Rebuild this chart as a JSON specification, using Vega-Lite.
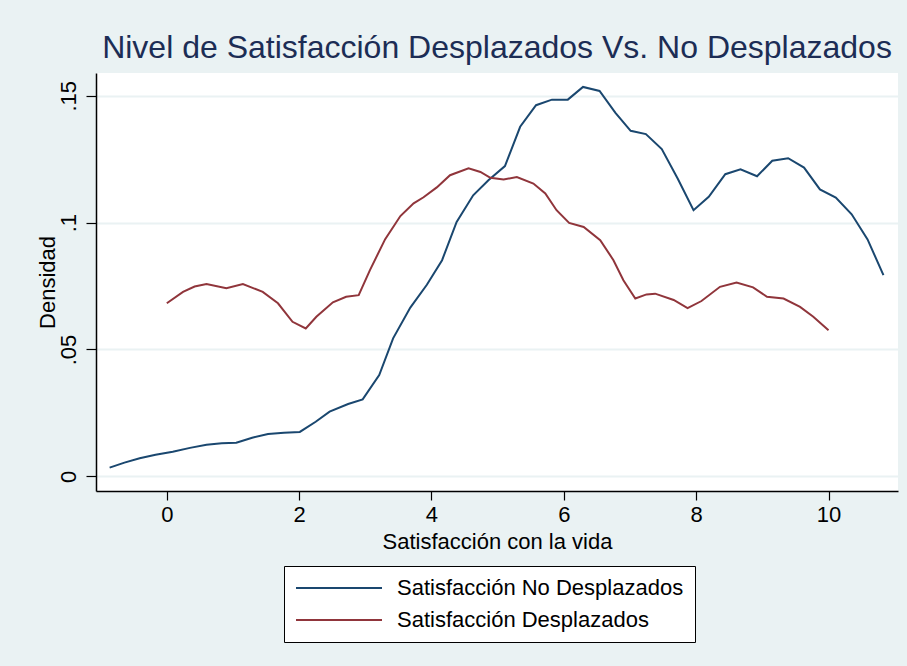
{
  "$schema": "https://vega.github.io/schema/vega-lite/v6.json",
  "width": 802,
  "height": 418,
  "autosize": {"type": "none"},
  "padding": {"left": 96, "top": 73, "right": 9, "bottom": 175},
  "background": "#EAF2F3",
  "title": {
    "text": "Nivel de Satisfacción Desplazados Vs. No Desplazados",
    "fontSize": 32,
    "fontWeight": "normal",
    "font": "Liberation Sans",
    "color": "#1C2D55",
    "anchor": "middle",
    "offset": 8
  },
  "config": {
    "font": "Liberation Sans",
    "view": {"stroke": null, "fill": "white"}
  },
  "data": {
    "values": [
      {"x": -0.864, "y": 0.0034, "s": "Satisfacción No Desplazados"},
      {"x": -0.64, "y": 0.0054, "s": "Satisfacción No Desplazados"},
      {"x": -0.41, "y": 0.0071, "s": "Satisfacción No Desplazados"},
      {"x": -0.17, "y": 0.0085, "s": "Satisfacción No Desplazados"},
      {"x": 0.09, "y": 0.0097, "s": "Satisfacción No Desplazados"},
      {"x": 0.35, "y": 0.0112, "s": "Satisfacción No Desplazados"},
      {"x": 0.6, "y": 0.0124, "s": "Satisfacción No Desplazados"},
      {"x": 0.83, "y": 0.0130, "s": "Satisfacción No Desplazados"},
      {"x": 1.05, "y": 0.0132, "s": "Satisfacción No Desplazados"},
      {"x": 1.29, "y": 0.0152, "s": "Satisfacción No Desplazados"},
      {"x": 1.53, "y": 0.0167, "s": "Satisfacción No Desplazados"},
      {"x": 1.77, "y": 0.0172, "s": "Satisfacción No Desplazados"},
      {"x": 2.01, "y": 0.0175, "s": "Satisfacción No Desplazados"},
      {"x": 2.25, "y": 0.0215, "s": "Satisfacción No Desplazados"},
      {"x": 2.46, "y": 0.0255, "s": "Satisfacción No Desplazados"},
      {"x": 2.74, "y": 0.0285, "s": "Satisfacción No Desplazados"},
      {"x": 2.96, "y": 0.0303, "s": "Satisfacción No Desplazados"},
      {"x": 3.21, "y": 0.0399, "s": "Satisfacción No Desplazados"},
      {"x": 3.42, "y": 0.0544, "s": "Satisfacción No Desplazados"},
      {"x": 3.68, "y": 0.0665, "s": "Satisfacción No Desplazados"},
      {"x": 3.93, "y": 0.0755, "s": "Satisfacción No Desplazados"},
      {"x": 4.16, "y": 0.0852, "s": "Satisfacción No Desplazados"},
      {"x": 4.38, "y": 0.1003, "s": "Satisfacción No Desplazados"},
      {"x": 4.63, "y": 0.1108, "s": "Satisfacción No Desplazados"},
      {"x": 4.86, "y": 0.1167, "s": "Satisfacción No Desplazados"},
      {"x": 5.11, "y": 0.1223, "s": "Satisfacción No Desplazados"},
      {"x": 5.34, "y": 0.1378, "s": "Satisfacción No Desplazados"},
      {"x": 5.58, "y": 0.1463, "s": "Satisfacción No Desplazados"},
      {"x": 5.82, "y": 0.1485, "s": "Satisfacción No Desplazados"},
      {"x": 6.06, "y": 0.1485, "s": "Satisfacción No Desplazados"},
      {"x": 6.29, "y": 0.1535, "s": "Satisfacción No Desplazados"},
      {"x": 6.54, "y": 0.1519, "s": "Satisfacción No Desplazados"},
      {"x": 6.78, "y": 0.1433, "s": "Satisfacción No Desplazados"},
      {"x": 7.01, "y": 0.1362, "s": "Satisfacción No Desplazados"},
      {"x": 7.24, "y": 0.1349, "s": "Satisfacción No Desplazados"},
      {"x": 7.48, "y": 0.1290, "s": "Satisfacción No Desplazados"},
      {"x": 7.72, "y": 0.1174, "s": "Satisfacción No Desplazados"},
      {"x": 7.96, "y": 0.1049, "s": "Satisfacción No Desplazados"},
      {"x": 8.19, "y": 0.1102, "s": "Satisfacción No Desplazados"},
      {"x": 8.44, "y": 0.1191, "s": "Satisfacción No Desplazados"},
      {"x": 8.67, "y": 0.1210, "s": "Satisfacción No Desplazados"},
      {"x": 8.92, "y": 0.1183, "s": "Satisfacción No Desplazados"},
      {"x": 9.15, "y": 0.1244, "s": "Satisfacción No Desplazados"},
      {"x": 9.39, "y": 0.1254, "s": "Satisfacción No Desplazados"},
      {"x": 9.63, "y": 0.1217, "s": "Satisfacción No Desplazados"},
      {"x": 9.87, "y": 0.1131, "s": "Satisfacción No Desplazados"},
      {"x": 10.11, "y": 0.1099, "s": "Satisfacción No Desplazados"},
      {"x": 10.35, "y": 0.1033, "s": "Satisfacción No Desplazados"},
      {"x": 10.59, "y": 0.0934, "s": "Satisfacción No Desplazados"},
      {"x": 10.83, "y": 0.0793, "s": "Satisfacción No Desplazados"},
      {"x": 0.0, "y": 0.0682, "s": "Satisfacción Desplazados"},
      {"x": 0.245, "y": 0.0727, "s": "Satisfacción Desplazados"},
      {"x": 0.42, "y": 0.0748, "s": "Satisfacción Desplazados"},
      {"x": 0.6, "y": 0.0758, "s": "Satisfacción Desplazados"},
      {"x": 0.9, "y": 0.0741, "s": "Satisfacción Desplazados"},
      {"x": 1.15, "y": 0.0758, "s": "Satisfacción Desplazados"},
      {"x": 1.45, "y": 0.0727, "s": "Satisfacción Desplazados"},
      {"x": 1.68, "y": 0.0682, "s": "Satisfacción Desplazados"},
      {"x": 1.9, "y": 0.0609, "s": "Satisfacción Desplazados"},
      {"x": 2.1, "y": 0.0583, "s": "Satisfacción Desplazados"},
      {"x": 2.26, "y": 0.0629, "s": "Satisfacción Desplazados"},
      {"x": 2.51, "y": 0.0686, "s": "Satisfacción Desplazados"},
      {"x": 2.71, "y": 0.0708, "s": "Satisfacción Desplazados"},
      {"x": 2.9, "y": 0.0714, "s": "Satisfacción Desplazados"},
      {"x": 3.07, "y": 0.0813, "s": "Satisfacción Desplazados"},
      {"x": 3.3, "y": 0.0935, "s": "Satisfacción Desplazados"},
      {"x": 3.53, "y": 0.1026, "s": "Satisfacción Desplazados"},
      {"x": 3.73, "y": 0.1076, "s": "Satisfacción Desplazados"},
      {"x": 3.88, "y": 0.11, "s": "Satisfacción Desplazados"},
      {"x": 4.08, "y": 0.1139, "s": "Satisfacción Desplazados"},
      {"x": 4.28, "y": 0.1187, "s": "Satisfacción Desplazados"},
      {"x": 4.56, "y": 0.1214, "s": "Satisfacción Desplazados"},
      {"x": 4.74, "y": 0.12, "s": "Satisfacción Desplazados"},
      {"x": 4.89, "y": 0.1177, "s": "Satisfacción Desplazados"},
      {"x": 5.09, "y": 0.117, "s": "Satisfacción Desplazados"},
      {"x": 5.29, "y": 0.118, "s": "Satisfacción Desplazados"},
      {"x": 5.54, "y": 0.1154, "s": "Satisfacción Desplazados"},
      {"x": 5.72, "y": 0.1115, "s": "Satisfacción Desplazados"},
      {"x": 5.89, "y": 0.1049, "s": "Satisfacción Desplazados"},
      {"x": 6.08, "y": 0.0999, "s": "Satisfacción Desplazados"},
      {"x": 6.3, "y": 0.0983, "s": "Satisfacción Desplazados"},
      {"x": 6.55, "y": 0.0931, "s": "Satisfacción Desplazados"},
      {"x": 6.75, "y": 0.0852, "s": "Satisfacción Desplazados"},
      {"x": 6.9, "y": 0.0773, "s": "Satisfacción Desplazados"},
      {"x": 7.08, "y": 0.0701, "s": "Satisfacción Desplazados"},
      {"x": 7.25, "y": 0.0717, "s": "Satisfacción Desplazados"},
      {"x": 7.38, "y": 0.072, "s": "Satisfacción Desplazados"},
      {"x": 7.66, "y": 0.0695, "s": "Satisfacción Desplazados"},
      {"x": 7.87, "y": 0.0663, "s": "Satisfacción Desplazados"},
      {"x": 8.08, "y": 0.0691, "s": "Satisfacción Desplazados"},
      {"x": 8.36, "y": 0.0747, "s": "Satisfacción Desplazados"},
      {"x": 8.61, "y": 0.0764, "s": "Satisfacción Desplazados"},
      {"x": 8.86, "y": 0.0745, "s": "Satisfacción Desplazados"},
      {"x": 9.07, "y": 0.0708, "s": "Satisfacción Desplazados"},
      {"x": 9.32, "y": 0.0701, "s": "Satisfacción Desplazados"},
      {"x": 9.57, "y": 0.0668, "s": "Satisfacción Desplazados"},
      {"x": 9.77, "y": 0.0629, "s": "Satisfacción Desplazados"},
      {"x": 10.0, "y": 0.0576, "s": "Satisfacción Desplazados"}
    ]
  },
  "mark": {"type": "line", "strokeWidth": 2, "interpolate": "linear"},
  "encoding": {
    "x": {
      "field": "x",
      "type": "quantitative",
      "scale": {"domain": [-1.07, 11.05], "nice": false, "zero": false},
      "axis": {
        "title": "Satisfacción con la vida",
        "values": [0, 2, 4, 6, 8, 10],
        "grid": false,
        "domainColor": "black",
        "domainWidth": 1.5,
        "tickColor": "black",
        "tickWidth": 1.2,
        "tickSize": 9,
        "labelFontSize": 22,
        "labelColor": "black",
        "labelPadding": 4,
        "titleFontSize": 22,
        "titleFontWeight": "normal",
        "titleColor": "black",
        "titlePadding": 6
      }
    },
    "y": {
      "field": "y",
      "type": "quantitative",
      "scale": {"domain": [-0.0058, 0.159], "nice": false, "zero": false},
      "axis": {
        "title": "Densidad",
        "values": [0, 0.05, 0.1, 0.15],
        "labelExpr": "datum.value == 0 ? '0' : replace(format(datum.value, '.2~f'), '0.', '.')",
        "grid": true,
        "gridColor": "#EAF2F3",
        "gridWidth": 2,
        "domainColor": "black",
        "domainWidth": 1.5,
        "tickColor": "black",
        "tickWidth": 1.2,
        "tickSize": 10,
        "labelAngle": -90,
        "labelAlign": "center",
        "labelBaseline": "bottom",
        "labelFontSize": 22,
        "labelColor": "black",
        "labelPadding": 6,
        "titleFontSize": 22,
        "titleFontWeight": "normal",
        "titleColor": "black",
        "titlePadding": -2
      }
    },
    "color": {
      "field": "s",
      "type": "nominal",
      "scale": {
        "domain": ["Satisfacción No Desplazados", "Satisfacción Desplazados"],
        "range": ["#1A476F", "#90353B"]
      },
      "legend": {
        "title": null,
        "orient": "none",
        "legendX": 188,
        "legendY": 493,
        "direction": "vertical",
        "symbolType": "M -1 0 H 7.6",
        "symbolSize": 400,
        "symbolStrokeWidth": 2,
        "symbolFillColor": "transparent",
        "labelFontSize": 22,
        "labelColor": "black",
        "labelOffset": 80,
        "labelLimit": 400,
        "rowPadding": 10,
        "padding": 11,
        "fillColor": "white",
        "strokeColor": "black"
      }
    }
  }
}
